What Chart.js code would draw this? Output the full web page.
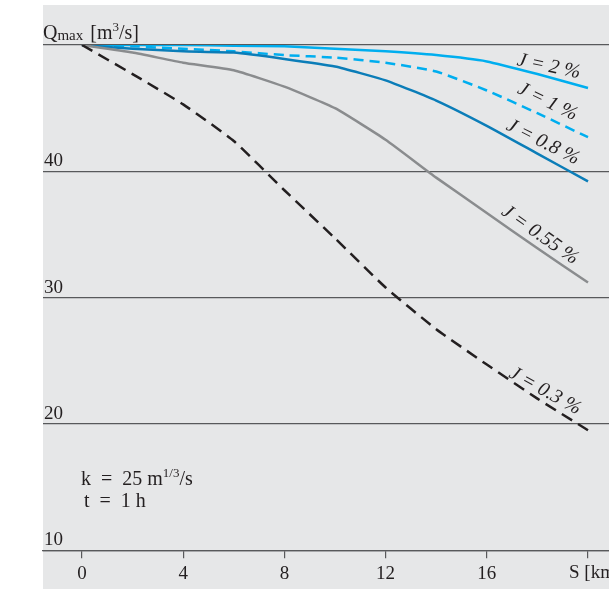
<!DOCTYPE html>
<html>
<head>
<meta charset="utf-8">
<script src="https://cdn.jsdelivr.net/npm/chart.js@4.4.0/dist/chart.umd.min.js"></script>
<style>
  html, body { margin: 0; padding: 0; background: #fff; }
  #wrap { width: 609px; height: 589px; }
</style>
</head>
<body>
<div id="wrap"><canvas id="chart" width="609" height="589"></canvas></div>
<script>
// Distância S [km] e vazão máxima Q [m3/s] para cada declividade J
const distancias = [0, 2, 4, 6, 8, 10, 12, 14, 16, 18, 20];
const q_J2 = [50, 50, 50, 49.95, 49.9, 49.7, 49.5, 49.2, 48.7, 47.7, 46.6];
const q_J1 = [50, 49.9, 49.7, 49.5, 49.2, 49.0, 48.6, 47.9, 46.4, 44.6, 42.7];
const q_J08 = [50, 49.7, 49.5, 49.4, 48.9, 48.3, 47.2, 45.6, 43.6, 41.4, 39.2];
const q_J055 = [50, 49.4, 48.6, 48.0, 46.7, 45.0, 42.5, 39.5, 36.7, 33.9, 31.2];
const q_J03 = [50, 47.7, 45.3, 42.4, 38.5, 34.7, 30.8, 27.5, 24.7, 22.0, 19.5];

const yTicks = [10, 20, 30, 40, 50];
const xTicks = [0, 4, 8, 12, 16, 20];

const corTexto = "#231f20";
const corGrade = "#58595b";
const serif = "'Liberation Serif', 'DejaVu Serif', serif";
const esp = "\u2002"; // espaço largo em volta do "="

const series = [
  { label: "J = 0.3 %", data: q_J03, cor: "#231f20", dash: [12, 7], pos: [18.3, 22.6], rot: 29 },
  { label: "J = 0.55 %", data: q_J055, cor: "#8a8c8e", dash: [], pos: [18.1, 34.95], rot: 35 },
  { label: "J = 0.8 %", data: q_J08, cor: "#0b7db8", dash: [], pos: [18.22, 42.3], rot: 27 },
  { label: "J = 1 %", data: q_J1, cor: "#00aeef", dash: [10, 6], pos: [18.4, 45.5], rot: 26 },
  { label: "J = 2 %", data: q_J2, cor: "#00aeef", dash: [], pos: [18.45, 48.3], rot: 12 },
];

// fundo cinza da figura
const fundo = {
  id: "fundo",
  beforeDraw(chart) {
    const { ctx, chartArea } = chart;
    ctx.save();
    ctx.fillStyle = "#e6e7e8";
    ctx.fillRect(chartArea.left, 5, chartArea.right - chartArea.left, chart.height - 5);
    ctx.restore();
  },
};

// textos: rótulos das curvas, eixo e anotações
const textos = {
  id: "textos",
  afterDraw(chart) {
    const { ctx, scales } = chart;
    const sx = scales.x, sy = scales.y;
    ctx.save();
    ctx.fillStyle = corTexto;

    // rótulos das curvas (itálico, girados)
    ctx.font = "italic 20px " + serif;
    ctx.textAlign = "center";
    ctx.textBaseline = "middle";
    series.forEach((s) => {
      ctx.save();
      ctx.translate(sx.getPixelForValue(s.pos[0]), sy.getPixelForValue(s.pos[1]));
      ctx.rotate((s.rot * Math.PI) / 180);
      ctx.fillText(s.label, 0, 0);
      ctx.restore();
    });

    ctx.textAlign = "left";
    ctx.textBaseline = "alphabetic";

    // Qmax [m3/s]
    let x = chart.chartArea.left;
    const yq = sy.getPixelForValue(50) - 6;
    ctx.font = "20px " + serif;
    ctx.fillText("Q", x, yq);
    x += ctx.measureText("Q").width;
    ctx.font = "15px " + serif;
    ctx.fillText("max", x, yq + 1);
    x += ctx.measureText("max").width + 7;
    ctx.font = "20px " + serif;
    ctx.fillText("[m", x, yq);
    x += ctx.measureText("[m").width;
    ctx.font = "13px " + serif;
    ctx.fillText("3", x, yq - 8);
    x += ctx.measureText("3").width;
    ctx.font = "20px " + serif;
    ctx.fillText("/s]", x, yq);

    // S [km] no fim do eixo x
    ctx.font = "19px " + serif;
    ctx.textBaseline = "middle";
    ctx.fillText("S [km]", sx.getPixelForValue(20) - 19, 573);

    // k = 25 m1/3/s ; t = 1 h
    ctx.textBaseline = "alphabetic";
    x = 81;
    const k1 = "k" + esp + "=" + esp + "25 m";
    ctx.font = "20px " + serif;
    ctx.fillText(k1, x, 485);
    x += ctx.measureText(k1).width;
    ctx.font = "13px " + serif;
    ctx.fillText("1/3", x, 477);
    x += ctx.measureText("1/3").width;
    ctx.font = "20px " + serif;
    ctx.fillText("/s", x, 485);
    ctx.fillText("t" + esp + "=" + esp + "1 h", 84, 507);

    ctx.restore();
  },
};

const ctx = document.getElementById("chart").getContext("2d");
new Chart(ctx, {
  type: "line",
  data: {
    labels: distancias,
    datasets: series.map((s) => ({
      label: s.label,
      data: distancias.map((d, i) => ({ x: d, y: s.data[i] })),
      borderColor: s.cor,
      borderDash: s.dash,
      borderWidth: 2.5,
      pointRadius: 0,
      tension: 0.15,
      fill: false,
    })),
  },
  options: {
    responsive: false,
    animation: false,
    layout: { padding: { left: 41, right: 0, top: 45, bottom: 0 } },
    plugins: {
      legend: { display: false },
      title: { display: false },
      tooltip: { enabled: false },
    },
    scales: {
      x: {
        type: "linear",
        min: -1.54,
        max: 20.83,
        afterBuildTicks: (axis) => {
          axis.ticks = xTicks.map((v) => ({ value: v }));
        },
        grid: {
          drawOnChartArea: false,
          drawTicks: true,
          tickLength: 8,
          color: corGrade,
          lineWidth: 1.2,
        },
        border: { display: true, color: corGrade, width: 1.2 },
        ticks: {
          color: corTexto,
          font: { family: serif, size: 19 },
          padding: 4,
          maxRotation: 0,
          callback: (v) => (v === 20 ? "" : v),
        },
      },
      y: {
        type: "linear",
        min: 10,
        max: 50,
        afterBuildTicks: (axis) => {
          axis.ticks = yTicks.map((v) => ({ value: v }));
        },
        grid: {
          drawTicks: false,
          color: corGrade,
          lineWidth: 1.2,
        },
        border: { display: false },
        ticks: {
          mirror: true,
          padding: 1,
          labelOffset: -10,
          color: corTexto,
          font: { family: serif, size: 19 },
          callback: (v) => (v === 50 ? "" : v),
        },
      },
    },
  },
  plugins: [fundo, textos],
});
</script>
</body>
</html>
